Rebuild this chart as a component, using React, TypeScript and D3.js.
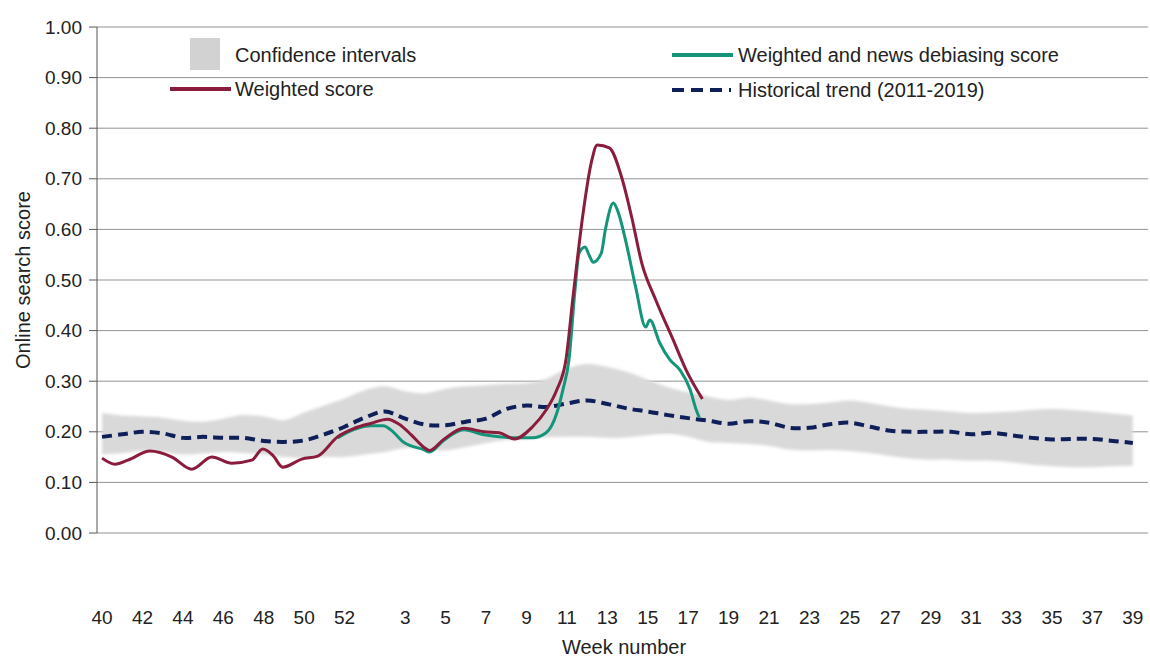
import React from "react";
import * as d3 from "d3";

// Week categories (2019 week 40 .. 2020 week 39)
const weekNumbers: number[] = [
  40, 41, 42, 43, 44, 45, 46, 47, 48, 49, 50, 51, 52,
  1, 2, 3, 4, 5, 6, 7, 8, 9, 10, 11, 12, 13, 14, 15, 16, 17, 18, 19, 20,
  21, 22, 23, 24, 25, 26, 27, 28, 29, 30, 31, 32, 33, 34, 35, 36, 37, 38, 39,
];
const tickWeeks: number[] = [40, 42, 44, 46, 48, 50, 52, 3, 5, 7, 9, 11, 13, 15, 17, 19, 21, 23, 25, 27, 29, 31, 33, 35, 37, 39];
const yTicks: number[] = [0, 0.1, 0.2, 0.3, 0.4, 0.5, 0.6, 0.7, 0.8, 0.9, 1.0];

// Historical trend (2011-2019), one value per week category
const historical: number[] = [
  0.19, 0.195, 0.2, 0.197, 0.188, 0.19, 0.188, 0.188, 0.182, 0.18, 0.183, 0.195, 0.21,
  0.228, 0.24, 0.226, 0.214, 0.213, 0.22, 0.226, 0.245, 0.252, 0.249, 0.256, 0.262, 0.255,
  0.246, 0.24, 0.233, 0.227, 0.222, 0.216, 0.221, 0.218, 0.208, 0.208, 0.215, 0.218, 0.21,
  0.202, 0.2, 0.2, 0.2, 0.195, 0.198, 0.193, 0.188, 0.185, 0.186, 0.186, 0.182, 0.178,
];

// Confidence interval bounds per week category
const ciUpper: number[] = [
  0.237, 0.232, 0.23, 0.228, 0.222, 0.22, 0.226, 0.233, 0.23, 0.223, 0.238, 0.252, 0.266,
  0.282, 0.29, 0.28, 0.276, 0.285, 0.29, 0.292, 0.295, 0.296, 0.305, 0.325, 0.334, 0.328,
  0.318, 0.303, 0.288, 0.278, 0.27, 0.263, 0.268, 0.262, 0.255, 0.255, 0.258, 0.262, 0.257,
  0.25, 0.245, 0.243, 0.24, 0.237, 0.238, 0.24, 0.243, 0.245, 0.243, 0.24, 0.236, 0.232,
];
const ciLower: number[] = [
  0.155, 0.158, 0.162, 0.16, 0.155, 0.157, 0.16, 0.158, 0.155, 0.15, 0.148, 0.15, 0.15,
  0.155, 0.16, 0.168, 0.165, 0.163, 0.17, 0.178, 0.184, 0.186, 0.189, 0.19, 0.19, 0.188,
  0.189, 0.193, 0.196, 0.19, 0.18, 0.178, 0.176, 0.172, 0.165, 0.163, 0.164, 0.162, 0.158,
  0.152, 0.147, 0.145, 0.145, 0.143, 0.143, 0.14, 0.135, 0.132, 0.13, 0.13, 0.132, 0.133,
];

// Weighted score: [position in week categories, value]
const weightedScore: [number, number][] = [
  [0, 0.148], [0.64, 0.136], [1.28, 0.144], [2.37, 0.162], [3.46, 0.15], [4.44, 0.126],
  [5.43, 0.15], [6.42, 0.138], [7.41, 0.144], [7.95, 0.166], [8.44, 0.154], [8.94, 0.13],
  [9.88, 0.146], [10.67, 0.152], [11.65, 0.19], [12.49, 0.207], [13.33, 0.217], [14.12, 0.225],
  [14.7, 0.215], [15.3, 0.194], [15.9, 0.17], [16.2, 0.163], [16.9, 0.185], [17.9, 0.207],
  [18.9, 0.2], [19.65, 0.198], [20.4, 0.186], [21.3, 0.21], [21.97, 0.243], [22.5, 0.283],
  [22.95, 0.342], [23.3, 0.466], [23.8, 0.632], [24.2, 0.731], [24.5, 0.767], [25.1, 0.761],
  [25.7, 0.704], [26.2, 0.625], [26.7, 0.534], [27.4, 0.46], [28.2, 0.387], [28.9, 0.322],
  [29.7, 0.265],
];

// Weighted and news debiasing score
const debiasedScore: [number, number][] = [
  [11.65, 0.188], [12.49, 0.205], [13.33, 0.212], [13.9, 0.212], [14.4, 0.2], [14.9, 0.18],
  [15.3, 0.172], [15.9, 0.165], [16.2, 0.16], [16.9, 0.183], [17.9, 0.204], [18.9, 0.194],
  [19.65, 0.19], [20.5, 0.188], [21.3, 0.188], [21.97, 0.198], [22.5, 0.237], [22.8, 0.283],
  [23.1, 0.342], [23.4, 0.48], [23.6, 0.553], [23.9, 0.565], [24.1, 0.549], [24.3, 0.535],
  [24.7, 0.553], [24.9, 0.599], [25.3, 0.652], [25.5, 0.638], [25.9, 0.579], [26.4, 0.486],
  [26.9, 0.407], [27.1, 0.421], [27.6, 0.375], [28.1, 0.342], [28.6, 0.322], [29.1, 0.283],
  [29.4, 0.243], [29.55, 0.228],
];

const W = 1150;
const H = 659;
const FONT = "'Liberation Sans', Arial, sans-serif";
const RED = "#8a1c3c";
const GREEN = "#14957a";
const NAVY = "#0f1f5a";
const BAND = "#d9d9d9";

export default function App() {
  const x = d3.scaleLinear().domain([-0.25, 51.75]).range([97, 1148]);
  const y = d3.scaleLinear().domain([0, 1]).range([533, 27]);

  const band = d3
    .area<number>()
    .x((_, i) => x(i))
    .y0((_, i) => y(ciLower[i]))
    .y1((d) => y(d))
    .curve(d3.curveCatmullRom);

  const histLine = d3
    .line<number>()
    .x((_, i) => x(i))
    .y((d) => y(d))
    .curve(d3.curveCatmullRom);

  const scoreLine = d3
    .line<[number, number]>()
    .x((d) => x(d[0]))
    .y((d) => y(d[1]))
    .curve(d3.curveMonotoneX);

  return (
    <svg
      width={W}
      height={H}
      style={{ position: "absolute", left: 0, top: 0, background: "#fff" }}
      fontFamily={FONT}
    >
      <defs>
        <filter id="soft" x="-5%" y="-20%" width="110%" height="140%">
          <feGaussianBlur stdDeviation="1.6" />
        </filter>
      </defs>

      {/* gridlines */}
      {yTicks.map((t) => (
        <line key={t} x1={97} x2={1148} y1={y(t)} y2={y(t)} stroke="#939393" strokeWidth={1} />
      ))}

      {/* confidence band */}
      <path d={band(ciUpper) || ""} fill={BAND} filter="url(#soft)" />

      {/* y axis */}
      <line x1={97} x2={97} y1={y(1)} y2={y(0)} stroke="#555" strokeWidth={1} />
      {yTicks.map((t) => (
        <g key={"yt" + t}>
          <line x1={89} x2={97} y1={y(t)} y2={y(t)} stroke="#555" strokeWidth={1} />
          <text x={82} y={y(t)} dy="0.35em" textAnchor="end" fontSize={19} fill="#222">
            {t.toFixed(2)}
          </text>
        </g>
      ))}

      {/* historical trend */}
      <path
        d={histLine(historical) || ""}
        fill="none"
        stroke={NAVY}
        strokeWidth={4}
        strokeDasharray="10 6"
      />

      {/* debiased score */}
      <path d={scoreLine(debiasedScore) || ""} fill="none" stroke={GREEN} strokeWidth={3} strokeLinejoin="round" />
      {/* weighted score */}
      <path d={scoreLine(weightedScore) || ""} fill="none" stroke={RED} strokeWidth={3} strokeLinejoin="round" />

      {/* x tick labels */}
      {tickWeeks.map((w, k) => {
        const idx = k < 7 ? weekNumbers.indexOf(w) : weekNumbers.lastIndexOf(w);
        return (
          <text key={"xt" + k} x={x(idx)} y={624} textAnchor="middle" fontSize={19} fill="#222">
            {w}
          </text>
        );
      })}
      <text x={624} y={654} textAnchor="middle" fontSize={20} fill="#222">
        Week number
      </text>
      <text
        transform={`translate(30, ${y(0.5)}) rotate(-90)`}
        textAnchor="middle"
        fontSize={20}
        fill="#222"
      >
        Online search score
      </text>

      {/* legend */}
      <rect x={190} y={38} width={30} height={32} fill="#d2d2d2" />
      <text x={235} y={62} fontSize={20} fill="#222">Confidence intervals</text>
      <line x1={170} x2={231} y1={89} y2={89} stroke={RED} strokeWidth={4} />
      <text x={235} y={96} fontSize={20} fill="#222">Weighted score</text>
      <line x1={672} x2={733} y1={55} y2={55} stroke={GREEN} strokeWidth={4} />
      <text x={738} y={62} fontSize={20} fill="#222">Weighted and news debiasing score</text>
      <line x1={672} x2={731} y1={90} y2={90} stroke={NAVY} strokeWidth={4} strokeDasharray="12 7" />
      <text x={738} y={97} fontSize={20} fill="#222">Historical trend (2011-2019)</text>
    </svg>
  );
}
